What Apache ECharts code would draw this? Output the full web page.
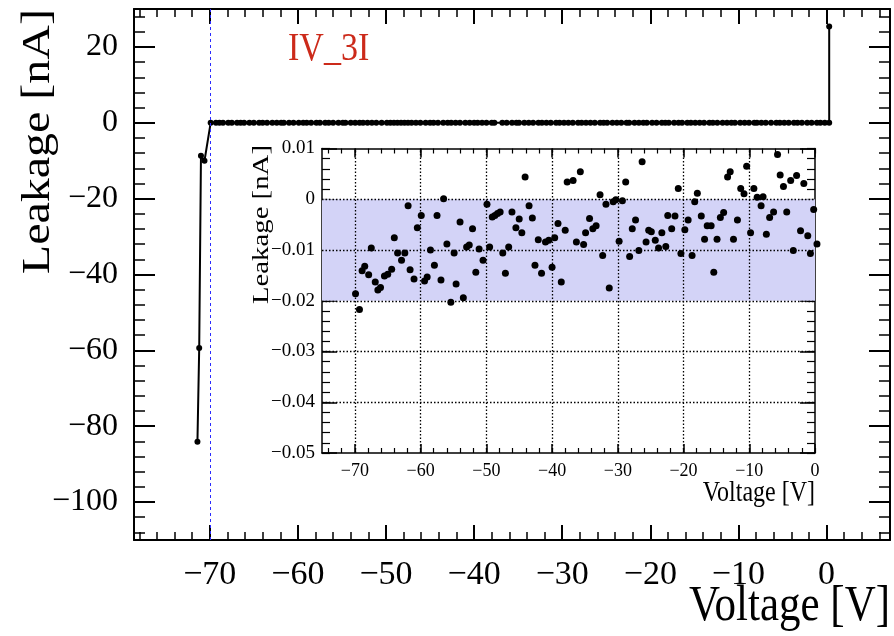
<!DOCTYPE html>
<html>
<head>
<meta charset="utf-8">
<title>IV_3I leakage</title>
<script src="https://cdn.jsdelivr.net/npm/echarts@6/dist/echarts.min.js"></script>
<style>
  html, body { margin: 0; padding: 0; background: #fff; }
  #chart { width: 894px; height: 636px; }
</style>
</head>
<body>
<div id="chart"></div>
<script>
// sweep points in the flat region, V and nA
const sweepVoltage = [
  -69.9, -69.3, -68.9, -68.5, -67.9, -67.5, -66.9, -66.5, -66.1, -65.5,
  -65.0, -64.4, -64.0, -63.5, -62.9, -62.4, -61.9, -61.6, -61.0, -60.5,
  -59.9, -59.4, -59.0, -58.5, -57.9, -57.5, -56.9, -56.5, -56.0, -55.4,
  -54.9, -54.6, -54.0, -53.5, -53.0, -52.6, -52.1, -51.6, -51.1, -50.5,
  -49.9, -49.5, -49.1, -48.7, -48.3, -47.9, -47.5, -47.1, -46.6, -46.1,
  -45.5, -45.0, -44.6, -44.1, -43.5, -43.0, -42.6, -42.1, -41.6, -41.0,
  -40.5, -40.0, -39.6, -39.1, -38.6, -38.0, -37.7,
  -36.8, -36.3, -35.7, -35.2, -34.9, -34.3, -33.8, -33.3, -32.7, -32.3,
  -31.8, -31.3, -30.7, -30.3, -29.8, -29.3, -28.8, -28.2, -27.8, -27.3,
  -26.8, -26.3, -25.7, -25.3, -24.9, -24.3, -23.8, -23.3, -22.7, -22.4,
  -21.8, -21.3, -20.8, -20.4, -19.8, -19.3, -18.7, -18.3, -17.9, -17.3,
  -16.8, -16.4, -15.8, -15.4, -14.9, -14.4, -13.9, -13.3, -12.9, -12.4,
  -11.8, -11.3, -10.8, -10.4, -9.8, -9.3, -8.8, -8.2, -7.9, -7.4,
  -6.9, -6.3, -5.7, -5.3, -4.8, -4.3, -3.7, -3.3, -2.8, -2.2,
  -1.7, -1.1, -0.7, -0.2, 0.3
];
const sweepLeakage = [
  -0.0186, -0.0217, -0.0141, -0.0132, -0.0149, -0.0096, -0.0163, -0.0179, -0.0174, -0.0151,
  -0.0148, -0.0138, -0.0076, -0.0106, -0.0120, -0.0106, -0.0013, -0.0139, -0.0157, -0.0056,
  -0.0032, -0.0161, -0.0153, -0.0100, -0.0130, -0.0032, -0.0159, 0.0001, -0.0088, -0.0203,
  -0.0106, -0.0167, -0.0045, -0.0194, -0.0094, -0.0090, -0.0058, -0.0144, -0.0098, -0.0120,
  -0.0010, -0.0094, -0.0035, -0.0032, -0.0028, -0.0025, -0.0106, -0.0146, -0.0094, -0.0025,
  -0.0056, -0.0039, -0.0066, 0.0044, -0.0013, -0.0037, -0.0130, -0.0080, -0.0146, -0.0084,
  -0.0081, -0.0134, -0.0076, -0.0048, -0.0163, -0.0061, 0.0034,
  0.0037, -0.0084, 0.0054, -0.0089, -0.0066, -0.0038, -0.0058, -0.0052, 0.0009, -0.0111,
  -0.0010, -0.0175, -0.0005, -0.0001, -0.0083, -0.0003, 0.0034, -0.0113, -0.0058, -0.0041,
  -0.0101, 0.0074, -0.0084, -0.0061, -0.0064, -0.0081, -0.0096, -0.0066, -0.0093, -0.0032,
  -0.0058, -0.0033, 0.0021, -0.0107, -0.0060, -0.0041, -0.0111, -0.0005, 0.0012, -0.0033,
  -0.0079, -0.0052, -0.0052, -0.0144, -0.0079, -0.0036, -0.0026, 0.0044, 0.0054, -0.0079,
  -0.0041, 0.0021, 0.0011, 0.0065, -0.0066, 0.0021, 0.0004, -0.0013, 0.0005, -0.0069,
  -0.0036, -0.0025, 0.0088, 0.0048, 0.0025, -0.0025, 0.0037, -0.0101, 0.0047, -0.0062,
  0.0031, -0.0072, -0.0107, -0.0020, -0.0088
];
// breakdown below -70 V
const breakdownVoltage = [-71.4, -71.2, -71.0, -70.6];
const breakdownLeakage = [-84.1, -59.4, -8.7, -10.0];
// last point of the sweep
const spikeVoltage = [0.3];
const spikeLeakage = [25.4];

const depletionVoltage = -70;
const bandLimits = [-0.02, 0];

const mainXTicks = [-70, -60, -50, -40, -30, -20, -10, 0];
const mainYTicks = [-100, -80, -60, -40, -20, 0, 20];
const insetXTicks = [-70, -60, -50, -40, -30, -20, -10, 0];
const insetYTicks = [-0.05, -0.04, -0.03, -0.02, -0.01, 0, 0.01];

function steps(from, to, step) {
  const out = [];
  for (let v = from; v <= to + step / 2; v += step) out.push(Math.round(v * 1e6) / 1e6);
  return out;
}
const mainXMinor = steps(-78, 6, 2);
const mainYMinor = steps(-108, 28, 4);
const insetXMinor = steps(-74, 0, 2);
const insetYMinor = steps(-0.05, 0.01, 0.002);

const FONT = 'Liberation Serif';
const minus = v => String(v).replace('-', '\u2212');

const mainData = [];
breakdownVoltage.forEach((v, i) => mainData.push([v, breakdownLeakage[i]]));
sweepVoltage.forEach((v, i) => mainData.push([v, sweepLeakage[i]]));
spikeVoltage.forEach((v, i) => mainData.push([v, spikeLeakage[i]]));
const insetData = sweepVoltage.map((v, i) => [v, sweepLeakage[i]]);

function tickAxis(grid, pos, min, max, values, len, width, line, label) {
  return {
    type: 'value', gridIndex: grid, position: pos, min: min, max: max,
    axisLine: { show: line, onZero: false, lineStyle: { color: '#000', width: width } },
    axisTick: { show: true, inside: true, length: len, customValues: values, lineStyle: { color: '#000', width: width } },
    axisLabel: label ? Object.assign({ customValues: values, color: '#000', fontFamily: FONT, formatter: minus }, label) : { show: false },
    splitLine: { show: false }
  };
}

const chart = echarts.init(document.getElementById('chart'));

const option = {
  animation: false,
  backgroundColor: '#fff',
  grid: [
    { left: 134, top: 9, width: 756, height: 531 },
    { left: 322, top: 148.5, width: 493, height: 304.5, show: true, backgroundColor: '#fff', borderWidth: 0 }
  ],
  xAxis: [
    tickAxis(0, 'bottom', -78.6, 7.2, mainXTicks, 15, 2, true, { fontSize: 34, margin: 18 }),
    tickAxis(0, 'bottom', -78.6, 7.2, mainXMinor, 8, 1.5, false),
    tickAxis(0, 'top', -78.6, 7.2, mainXTicks, 15, 2, true),
    tickAxis(0, 'top', -78.6, 7.2, mainXMinor, 8, 1.5, false),
    tickAxis(1, 'bottom', -75, 0, insetXTicks, 9, 1.5, true, { fontSize: 18, margin: 9 }),
    tickAxis(1, 'bottom', -75, 0, insetXMinor, 5, 1.2, false),
    tickAxis(1, 'top', -75, 0, insetXTicks, 9, 1.5, true),
    tickAxis(1, 'top', -75, 0, insetXMinor, 5, 1.2, false)
  ],
  yAxis: [
    tickAxis(0, 'left', -110, 30, mainYTicks, 21, 2, true, { fontSize: 32, margin: 16 }),
    tickAxis(0, 'left', -110, 30, mainYMinor, 11, 1.5, false),
    tickAxis(0, 'right', -110, 30, mainYTicks, 21, 2, true),
    tickAxis(0, 'right', -110, 30, mainYMinor, 11, 1.5, false),
    tickAxis(1, 'left', -0.05, 0.01, insetYTicks, 15, 1.5, true, { fontSize: 19, margin: 7 }),
    tickAxis(1, 'left', -0.05, 0.01, insetYMinor, 8, 1.2, false),
    tickAxis(1, 'right', -0.05, 0.01, insetYTicks, 15, 1.5, true),
    tickAxis(1, 'right', -0.05, 0.01, insetYMinor, 8, 1.2, false)
  ],
  series: [
    {
      type: 'line',
      xAxisIndex: 0,
      yAxisIndex: 0,
      data: mainData,
      symbol: 'circle',
      symbolSize: 6,
      showAllSymbol: true,
      itemStyle: { color: '#000' },
      lineStyle: { color: '#000', width: 2 },
      markLine: {
        silent: true,
        symbol: 'none',
        label: { show: false },
        lineStyle: { color: '#2b2bff', width: 1, type: [3, 3] },
        data: [{ xAxis: depletionVoltage }]
      }
    },
    {
      type: 'scatter',
      xAxisIndex: 4,
      yAxisIndex: 4,
      data: insetData,
      symbolSize: 7,
      clip: false,
      itemStyle: { color: '#000', opacity: 1 },
      markArea: {
        silent: true,
        itemStyle: { color: '#d3d3f7' },
        data: [[{ yAxis: bandLimits[1] }, { yAxis: bandLimits[0] }]]
      },
      markLine: {
        silent: true,
        symbol: 'none',
        label: { show: false },
        lineStyle: { color: '#000', width: 1.3, type: [1.5, 2] },
        data: insetXTicks.slice(0, -1).map(v => ({ xAxis: v }))
          .concat(insetYTicks.slice(1, -1).map(v => ({ yAxis: v })))
      }
    }
  ],
  graphic: [
    {
      type: 'text', x: 288, y: 50, scaleY: 1.15,
      style: { text: 'IV_3I', fill: '#cc2a1a', font: '34px "Liberation Serif"',
        textAlign: 'left', align: 'left', textVerticalAlign: 'middle', verticalAlign: 'middle' }
    },
    {
      type: 'text', x: 890, y: 606, scaleY: 1.2,
      style: { text: 'Voltage [V]', fill: '#000', font: '43px "Liberation Serif"',
        textAlign: 'right', align: 'right', textVerticalAlign: 'middle', verticalAlign: 'middle' }
    },
    {
      type: 'text', x: 38, y: 9, rotation: Math.PI / 2, scaleX: 1.2,
      style: { text: 'Leakage [nA]', fill: '#000', font: '40px "Liberation Serif"',
        textAlign: 'right', align: 'right', textVerticalAlign: 'middle', verticalAlign: 'middle' }
    },
    {
      type: 'text', x: 815, y: 493, scaleY: 1.2,
      style: { text: 'Voltage [V]', fill: '#000', font: '24px "Liberation Serif"',
        textAlign: 'right', align: 'right', textVerticalAlign: 'middle', verticalAlign: 'middle' }
    },
    {
      type: 'text', x: 262, y: 145, rotation: Math.PI / 2, scaleX: 1.2,
      style: { text: 'Leakage [nA]', fill: '#000', font: '24px "Liberation Serif"',
        textAlign: 'right', align: 'right', textVerticalAlign: 'middle', verticalAlign: 'middle' }
    }
  ]
};

chart.setOption(option);
</script>
</body>
</html>
